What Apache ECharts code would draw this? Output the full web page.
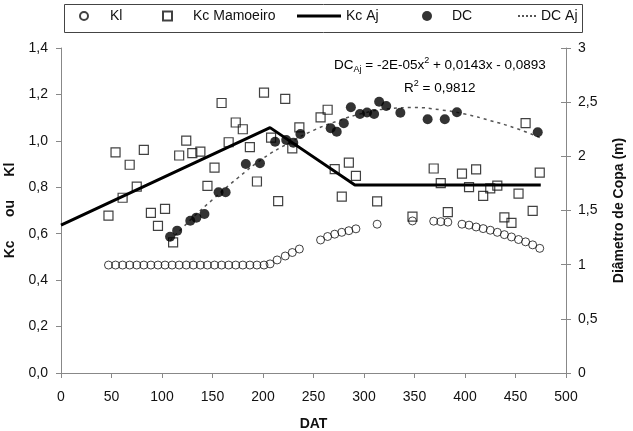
<!DOCTYPE html>
<html>
<head>
<meta charset="utf-8">
<script src="https://cdn.jsdelivr.net/npm/echarts@6/dist/echarts.min.js"></script>
<style>
html,body{margin:0;padding:0;background:#fff;}
#chart{width:633px;height:431px;}
</style>
</head>
<body>
<div id="chart"></div>
<script>
// ---- Data ----
const xTicks = [0, 50, 100, 150, 200, 250, 300, 350, 400, 450, 500];
const leftTicks = [0, 0.2, 0.4, 0.6, 0.8, 1.0, 1.2, 1.4];
const rightTicks = [0, 0.5, 1, 1.5, 2, 2.5, 3];

// Kl (open circles)
const klX = [47,54,61,68,75,82,89,96,103,110,117,124,131,138,145,152,159,166,173,180,187,194,201,
             207,214,222,229,236,
             257,264,271,278,285,292,
             313,348,369,376,383,
             397,404,411,418,425,432,439,446,453,460,467,474];
const klY = [0.465,0.465,0.465,0.465,0.465,0.465,0.465,0.465,0.465,0.465,0.465,0.465,0.465,0.465,0.465,0.465,0.465,0.465,0.465,0.465,0.465,0.465,0.465,
             0.470,0.487,0.504,0.519,0.534,
             0.573,0.588,0.598,0.606,0.613,0.621,
             0.641,0.655,0.654,0.652,0.650,
             0.641,0.637,0.629,0.622,0.615,0.606,0.596,0.586,0.575,0.565,0.552,0.537];

// Kc Mamoeiro (open squares)
const kcX = [47,54,61,68,75,82,89,96,103,111,117,124,130,138,145,152,159,166,173,180,187,194,201,208,215,222,229,236,
             257,264,271,278,285,292,313,348,369,376,383,397,404,411,418,425,432,439,446,453,460,467,474];
const kcY = [0.678,0.950,0.755,0.897,0.803,0.961,0.690,0.634,0.707,0.563,0.937,1.001,0.947,0.954,0.806,0.885,1.163,0.994,1.079,1.050,0.973,0.825,1.208,1.014,0.740,1.181,0.968,1.058,
             1.101,1.134,0.878,0.760,0.906,0.849,0.739,0.674,0.881,0.818,0.693,0.859,0.801,0.877,0.763,0.795,0.807,0.670,0.647,0.773,1.076,0.698,0.863];

// Kc Aj (solid line)
const kcAjX = [0, 207, 291, 475];
const kcAjY = [0.637, 1.057, 0.81, 0.81];

// DC (filled circles, right axis)
const dcX = [108,115,128,134,142,156,163,183,197,212,223,230,237,267,273,280,287,296,303,310,315,322,336,363,380,392,472];
const dcY = [1.258,1.314,1.406,1.434,1.468,1.668,1.668,1.929,1.936,2.135,2.151,2.126,2.206,2.259,2.227,2.305,2.453,2.391,2.405,2.391,2.504,2.465,2.403,2.342,2.342,2.407,2.222];

// DC Aj (dotted curve, right axis)
const dcAjX = [108,130,150,175,200,225,250,275,300,325,350,375,400,425,450,475];
const dcAjY = [1.22,1.43,1.60,1.80,1.98,2.12,2.24,2.33,2.40,2.44,2.45,2.43,2.39,2.33,2.26,2.17];

const seriesNames = ['Kl', 'Kc Mamoeiro', 'Kc Aj', 'DC', 'DC Aj'];
const eqLine1 = ['DC', 'Aj', ' = -2E-05x', '2', ' + 0,0143x - 0,0893'];
const eqLine2 = ['R', '2', ' = 0,9812'];
const leftName = 'Kc      ou      Kl';
const rightName = 'Diâmetro de Copa (m)';
const xName = 'DAT';

// ---- Build ----
const zip = (xs, ys) => xs.map((x, i) => [x, ys[i]]);
const FONT = 'Liberation Sans, Arial, sans-serif';
const comma = v => String(v).replace('.', ',');

const chart = echarts.init(document.getElementById('chart'), null, {renderer: 'canvas'});

const legendBase = (name, left, w, h, padLeft, extra) => Object.assign({
  data: [name], left: left, top: 9, itemWidth: w, itemHeight: h, padding: 0,
  selectedMode: false,
  textStyle: {fontFamily: FONT, fontSize: 14, color: '#111', padding: [0, 0, 0, padLeft]}
}, extra || {});

const option = {
  animation: false,
  backgroundColor: '#fff',
  grid: {left: 61, right: 67, top: 48, bottom: 58, containLabel: false, outerBoundsMode: 'none'},
  legend: [
    legendBase(seriesNames[0], 79, 8, 8, 17, {
      data: [{name: seriesNames[0], icon: 'circle'}]
    }),
    legendBase(seriesNames[1], 162, 9, 9, 16, {
      data: [{name: seriesNames[1], icon: 'path://M0,0L10,0L10,10L0,10Z'}]
    }),
    legendBase(seriesNames[2], 297, 44, 3, 0, {
      data: [{name: seriesNames[2], icon: 'path://M0,0L10,0L10,1L0,1Z'}],
      symbolKeepAspect: false, itemStyle: {color: '#000'}
    }),
    legendBase(seriesNames[3], 422, 10, 10, 15, {
      data: [{name: seriesNames[3], icon: 'circle'}]
    }),
    legendBase(seriesNames[4], 518, 18, 2, 0, {
      data: [{name: seriesNames[4], icon: 'path://M0,0h2v1h-2zM4,0h2v1h-2zM8,0h2v1h-2zM12,0h2v1h-2zM16,0h2v1h-2z'}],
      symbolKeepAspect: false, itemStyle: {color: '#555'}
    })
  ],
  xAxis: {
    type: 'value', min: 0, max: 500, interval: 50,
    name: xName, nameLocation: 'middle', nameGap: 44,
    nameTextStyle: {fontFamily: FONT, fontSize: 14, fontWeight: 'bold', color: '#111'},
    axisLine: {lineStyle: {color: '#888', width: 1}},
    axisTick: {show: true, length: 5, lineStyle: {color: '#888'}},
    axisLabel: {fontFamily: FONT, fontSize: 14, color: '#111', margin: 17,
      formatter: v => xTicks.includes(v) ? String(v) : ''},
    splitLine: {show: false}
  },
  yAxis: [
    {
      type: 'value', min: 0, max: 1.4, interval: 0.2, position: 'left',
      name: leftName, nameLocation: 'middle', nameGap: 33, nameRotate: 90,
      nameTextStyle: {fontFamily: FONT, fontSize: 14, fontWeight: 'bold', color: '#111'},
      axisLine: {show: true, lineStyle: {color: '#888', width: 1}},
      axisTick: {show: true, length: 5, lineStyle: {color: '#888'}},
      axisLabel: {fontFamily: FONT, fontSize: 14, color: '#111', margin: 13,
        formatter: v => leftTicks.some(t => Math.abs(t - v) < 1e-9) ? v.toFixed(1).replace('.', ',') : ''},
      splitLine: {show: false}
    },
    {
      type: 'value', min: 0, max: 3, interval: 0.5, position: 'right',
      name: rightName, nameLocation: 'middle', nameGap: 46, nameRotate: 90,
      nameTextStyle: {fontFamily: FONT, fontSize: 14, fontWeight: 'bold', color: '#111'},
      axisLine: {show: true, lineStyle: {color: '#888', width: 1}},
      axisTick: {show: true, length: 5, lineStyle: {color: '#888'}},
      axisLabel: {fontFamily: FONT, fontSize: 14, color: '#111', margin: 12,
        formatter: v => rightTicks.some(t => Math.abs(t - v) < 1e-9) ? comma(v) : ''},
      splitLine: {show: false}
    },
    {
      type: 'value', min: 0, max: 3, interval: 0.5, position: 'right', offset: 0,
      axisLine: {show: false},
      axisTick: {show: true, inside: true, length: 5, lineStyle: {color: '#888'}},
      axisLabel: {show: false},
      splitLine: {show: false}
    }
  ],
  series: [
    {
      name: seriesNames[0], type: 'scatter', yAxisIndex: 0, symbol: 'circle', symbolSize: 8,
      itemStyle: {color: 'rgba(255,255,255,0)', borderColor: '#111', borderWidth: 1},
      emphasis: {disabled: true}, data: zip(klX, klY), z: 3
    },
    {
      name: seriesNames[1], type: 'scatter', yAxisIndex: 0, symbol: 'rect', symbolSize: 9,
      itemStyle: {color: 'rgba(255,255,255,0)', borderColor: '#111', borderWidth: 1.2},
      emphasis: {disabled: true}, data: zip(kcX, kcY), z: 3
    },
    {
      name: seriesNames[3], type: 'scatter', yAxisIndex: 1, symbol: 'circle', symbolSize: 10,
      itemStyle: {color: '#000'},
      emphasis: {disabled: true}, data: zip(dcX, dcY), z: 4
    },
    {
      name: seriesNames[4], type: 'line', yAxisIndex: 1, smooth: true, symbol: 'none',
      lineStyle: {color: '#555', width: 1.5, type: [3, 4]}, itemStyle: {color: '#555'},
      emphasis: {disabled: true}, data: zip(dcAjX, dcAjY), z: 2
    },
    {
      name: seriesNames[2], type: 'line', yAxisIndex: 0, symbol: 'none',
      lineStyle: {color: '#000', width: 3}, itemStyle: {color: '#000'},
      emphasis: {disabled: true}, data: zip(kcAjX, kcAjY), z: 5
    }
  ],
  graphic: [
    {type: 'rect', left: 62, top: 2, shape: {width: 518, height: 28}, silent: true,
     style: {fill: 'none', stroke: '#444', lineWidth: 1}},
    {type: 'text', left: 334, top: 56, silent: true,
     style: {
       text: '{n|' + eqLine1[0] + '}{sub|' + eqLine1[1] + '}{n|' + eqLine1[2] + '}{sup|' + eqLine1[3] + '}{n|' + eqLine1[4] + '}',
       rich: {
         n: {fontFamily: FONT, fontSize: 13.5, color: '#111', lineHeight: 18, verticalAlign: 'middle'},
         sub: {fontFamily: FONT, fontSize: 9, color: '#111', lineHeight: 18, verticalAlign: 'bottom'},
         sup: {fontFamily: FONT, fontSize: 9, color: '#111', lineHeight: 18, verticalAlign: 'top'}
       }
     }},
    {type: 'text', left: 404, top: 79, silent: true,
     style: {
       text: '{n|' + eqLine2[0] + '}{sup|' + eqLine2[1] + '}{n|' + eqLine2[2] + '}',
       rich: {
         n: {fontFamily: FONT, fontSize: 13.5, color: '#111', lineHeight: 18, verticalAlign: 'middle'},
         sup: {fontFamily: FONT, fontSize: 9, color: '#111', lineHeight: 18, verticalAlign: 'top'}
       }
     }}
  ]
};
chart.setOption(option);
</script>
</body>
</html>
